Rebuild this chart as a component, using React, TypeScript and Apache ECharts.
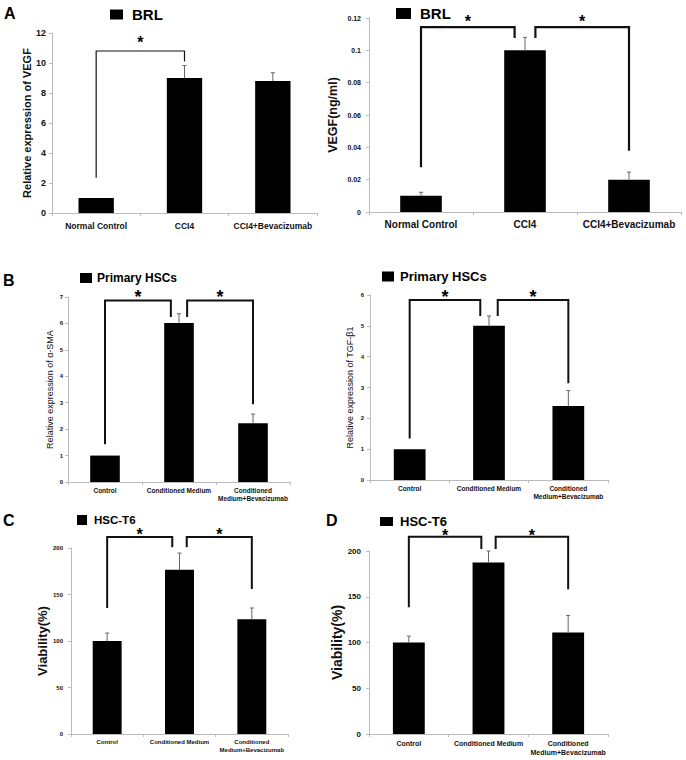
import React, { useEffect, useRef } from "react";
import * as echarts from "echarts";

// ---------- data ----------
const catsBRL = ["Normal Control", "CCI4", "CCI4+Bevacizumab"];
const catsHSC = ["Control", "Conditioned Medium", "Conditioned\nMedium+Bevacizumab"];

const legendBRL = "BRL";
const legendPrimary = "Primary HSCs";
const legendT6 = "HSC-T6";

// A (left): relative expression of VEGF
const vegfRelMean = [1, 9.0, 8.8];
const vegfRelUpper = [1, 9.83, 9.35];
const vegfRelTicks = [0, 12, 2]; // min, max, interval
const vegfRelBrackets = [[0, 1, 2.35, 10.1, 10.8]]; // from, to, fromEnd, toEnd, top

// A (right): VEGF ng/ml
const vegfConcMean = [0.01, 0.1, 0.02];
const vegfConcUpper = [0.0122, 0.108, 0.0247];
const vegfConcTicks = [0, 0.12, 0.02];
const vegfConcBrackets = [
  [0, 1, 0.0277, 0.1076, 0.1144],
  [1, 2, 0.1076, 0.0379, 0.1144],
];

// B (left): alpha-SMA
const smaMean = [1, 6.02, 2.22];
const smaUpper = [1, 6.37, 2.57];
const smaTicks = [0, 7, 1];
const smaBrackets = [
  [0, 1, 1.43, 6.24, 6.87],
  [1, 2, 6.24, 2.94, 6.87],
];

// B (right): TGF-beta1
const tgfMean = [1, 5.0, 2.4];
const tgfUpper = [1, 5.32, 2.9];
const tgfTicks = [0, 6, 1];
const tgfBrackets = [
  [0, 1, 1.35, 5.32, 5.84],
  [1, 2, 5.32, 3.14, 5.84],
];

// C: viability
const viabCMean = [100, 176.5, 123.5];
const viabCUpper = [108.5, 194.5, 135.5];
const viabCTicks = [0, 200, 50];
const viabCBrackets = [
  [0, 1, 135.5, 200.7, 211.8],
  [1, 2, 200.7, 155.9, 211.8],
];

// D: viability
const viabDMean = [100, 187.5, 111];
const viabDUpper = [107, 200, 129.5];
const viabDTicks = [0, 200, 50];
const viabDBrackets = [
  [0, 1, 138.4, 202.2, 215.7],
  [1, 2, 202.2, 158.1, 215.7],
];

// ---------- layout ----------
const FONT = "'Liberation Sans', Arial, sans-serif";

const panels = [
  {
    name: legendBRL, cats: catsBRL, mean: vegfRelMean, upper: vegfRelUpper, ticks: vegfRelTicks,
    brackets: vegfRelBrackets, yName: "Relative expression of VEGF",
    grid: { left: 52, top: 33, width: 265, height: 180 },
    yNameSize: 11, yNameWeight: "bold", yNameGap: 20, yLabelSize: 9, yLabelMargin: 6,
    xLabelSize: 8.5, xLabelMargin: 8,
    legend: { left: 110, top: 7, w: 13, h: 10, fs: 15, pad: 4 },
    starFs: 16, starOff: 13, bw: 1.2, inset: 0,
  },
  {
    name: legendBRL, cats: catsBRL, mean: vegfConcMean, upper: vegfConcUpper, ticks: vegfConcTicks,
    brackets: vegfConcBrackets, yName: "VEGF(ng/ml)",
    grid: { left: 369, top: 18, width: 312, height: 194 },
    yNameSize: 12.5, yNameWeight: "bold", yNameGap: 30, yLabelSize: 7, yLabelMargin: 8,
    xLabelSize: 10, xLabelMargin: 6,
    legend: { left: 396, top: 6, w: 15, h: 11, fs: 15, pad: 4 },
    starFs: 16, starOff: 10, bw: 2.2, inset: 0.1,
  },
  {
    name: legendPrimary, cats: catsHSC, mean: smaMean, upper: smaUpper, ticks: smaTicks,
    brackets: smaBrackets, yName: "Relative expression of α-SMA",
    grid: { left: 68, top: 297, width: 222, height: 185 },
    yNameSize: 9, yNameWeight: "normal", yNameGap: 14, yLabelSize: 6, yLabelMargin: 5,
    xLabelSize: 6.5, xLabelMargin: 4,
    legend: { left: 80, top: 272, w: 12, h: 10, fs: 12, pad: 0 },
    starFs: 18, starOff: 9, bw: 2, inset: 0.11,
  },
  {
    name: legendPrimary, cats: catsHSC, mean: tgfMean, upper: tgfUpper, ticks: tgfTicks,
    brackets: tgfBrackets, yName: "Relative expression of TGF-β1",
    grid: { left: 370, top: 295, width: 238, height: 185 },
    yNameSize: 9, yNameWeight: "normal", yNameGap: 16, yLabelSize: 6, yLabelMargin: 6,
    xLabelSize: 6.5, xLabelMargin: 4,
    legend: { left: 382, top: 270, w: 12, h: 10, fs: 13, pad: 1 },
    starFs: 18, starOff: 8, bw: 2, inset: 0.11,
  },
  {
    name: legendT6, cats: catsHSC, mean: viabCMean, upper: viabCUpper, ticks: viabCTicks,
    brackets: viabCBrackets, yName: "Viability(%)",
    grid: { left: 71, top: 548, width: 217, height: 186 },
    yNameSize: 13, yNameWeight: "bold", yNameGap: 16, yLabelSize: 6, yLabelMargin: 8,
    xLabelSize: 6, xLabelMargin: 4,
    legend: { left: 77, top: 514, w: 10, h: 10, fs: 11.5, pad: 2 },
    starFs: 16, starOff: 7, bw: 2, inset: 0.1,
  },
  {
    name: legendT6, cats: catsHSC, mean: viabDMean, upper: viabDUpper, ticks: viabDTicks,
    brackets: viabDBrackets, yName: "Viability(%)",
    grid: { left: 369, top: 551, width: 239, height: 183 },
    yNameSize: 14, yNameWeight: "bold", yNameGap: 24, yLabelSize: 8, yLabelMargin: 8,
    xLabelSize: 7, xLabelMargin: 5,
    legend: { left: 380, top: 515, w: 13, h: 9, fs: 13, pad: 2 },
    starFs: 16, starOff: 6, bw: 2, inset: 0.09,
  },
];

const letters = [
  { t: "A", left: 4, top: 5 },
  { t: "B", left: 3, top: 272 },
  { t: "C", left: 3, top: 512 },
  { t: "D", left: 326, top: 512 },
];

function buildOption() {
  const grid: any[] = [];
  const xAxis: any[] = [];
  const yAxis: any[] = [];
  const series: any[] = [];
  const legend: any[] = [];

  panels.forEach((p, i) => {
    grid.push({ ...p.grid, containLabel: false });
    xAxis.push({
      type: "category",
      gridIndex: i,
      data: p.cats,
      axisLine: { lineStyle: { color: "#bbb", width: 1 } },
      axisTick: { show: true, length: 3, lineStyle: { color: "#bbb" } },
      axisLabel: {
        interval: 0,
        fontSize: p.xLabelSize,
        fontWeight: "bold",
        fontFamily: FONT,
        color: "#111",
        margin: p.xLabelMargin,
        lineHeight: p.xLabelSize + 2,
      },
    });
    yAxis.push({
      type: "value",
      gridIndex: i,
      min: p.ticks[0],
      max: p.ticks[1],
      interval: p.ticks[2],
      name: p.yName,
      nameLocation: "middle",
      nameRotate: 90,
      nameGap: p.yNameGap,
      nameTextStyle: {
        fontSize: p.yNameSize,
        fontWeight: p.yNameWeight,
        fontFamily: FONT,
        color: "#111",
      },
      splitLine: { show: false },
      axisLine: { show: true, lineStyle: { color: "#bbb", width: 1 } },
      axisTick: { show: true, length: 3, lineStyle: { color: "#bbb" } },
      axisLabel: {
        fontSize: p.yLabelSize,
        fontWeight: "bold",
        fontFamily: FONT,
        color: "#111",
        margin: p.yLabelMargin,
      },
    });
    series.push({
      type: "bar",
      name: p.name,
      xAxisIndex: i,
      yAxisIndex: i,
      data: p.mean,
      barWidth: "40%",
      itemStyle: { color: "#000" },
      z: 2,
    });
    const errData = p.mean
      .map((m, k) => [k, m, p.upper[k]])
      .filter((d) => d[2] > d[1]);
    series.push({
      type: "custom",
      xAxisIndex: i,
      yAxisIndex: i,
      data: errData,
      encode: { x: 0, y: [1, 2] },
      z: 3,
      silent: true,
      renderItem: (params: any, api: any) => {
        const idx = api.value(0);
        const p0 = api.coord([idx, api.value(1)]);
        const p1 = api.coord([idx, api.value(2)]);
        return {
          type: "group",
          children: [
            { type: "line", shape: { x1: p0[0], y1: p0[1], x2: p1[0], y2: p1[1] }, style: { stroke: "#666", lineWidth: 1 } },
            { type: "line", shape: { x1: p1[0] - 2, y1: p1[1], x2: p1[0] + 2, y2: p1[1] }, style: { stroke: "#666", lineWidth: 1 } },
          ],
        };
      },
    });
    const nB = p.brackets.length;
    series.push({
      type: "custom",
      xAxisIndex: i,
      yAxisIndex: i,
      data: p.brackets,
      encode: { x: [0, 1], y: [2, 3, 4] },
      z: 4,
      silent: true,
      clip: false,
      renderItem: (params: any, api: any) => {
        const j = params.dataIndex;
        const band = api.size([1, 0])[0];
        const pA = api.coord([api.value(0), api.value(2)]);
        const pB = api.coord([api.value(1), api.value(3)]);
        const top = api.coord([api.value(0), api.value(4)])[1];
        const xA = pA[0] + (nB > 1 && j === 1 ? p.inset * band : 0);
        const xB = pB[0] - (nB > 1 && j === 0 ? p.inset * band : 0);
        return {
          type: "group",
          children: [
            {
              type: "polyline",
              shape: { points: [[xA, pA[1]], [xA, top], [xB, top], [xB, pB[1]]] },
              style: { stroke: "#111", lineWidth: p.bw, fill: "none" },
            },
            {
              type: "text",
              x: (xA + xB) / 2,
              y: top - p.starOff + 0.3 * p.starFs,
              style: {
                text: "*",
                fontSize: p.starFs,
                fontWeight: "bold",
                fontFamily: FONT,
                fill: "#000",
                align: "center",
                verticalAlign: "middle",
              },
            },
          ],
        };
      },
    });
    legend.push({
      data: [p.name],
      left: p.legend.left,
      top: p.legend.top,
      padding: 0,
      itemWidth: p.legend.w,
      itemHeight: p.legend.h,
      icon: "rect",
      selectedMode: false,
      textStyle: {
        fontSize: p.legend.fs,
        fontWeight: "bold",
        fontFamily: FONT,
        color: "#000",
        padding: [0, 0, 0, p.legend.pad],
      },
    });
  });

  const title = letters.map((l) => ({
    text: l.t,
    left: l.left,
    top: l.top,
    padding: 0,
    textStyle: { fontSize: 16, fontWeight: "bold", fontFamily: FONT, color: "#000" },
  }));

  return {
    animation: false,
    backgroundColor: "#fff",
    title,
    legend,
    grid,
    xAxis,
    yAxis,
    series,
  };
}

export default function App() {
  const ref = useRef<HTMLDivElement>(null);
  useEffect(() => {
    if (!ref.current) return;
    const chart = echarts.init(ref.current, null, { renderer: "svg" });
    chart.setOption(buildOption() as any);
    return () => chart.dispose();
  }, []);
  return (
    <div
      ref={ref}
      style={{ position: "fixed", left: 0, top: 0, width: 686, height: 760, background: "#fff" }}
    />
  );
}
